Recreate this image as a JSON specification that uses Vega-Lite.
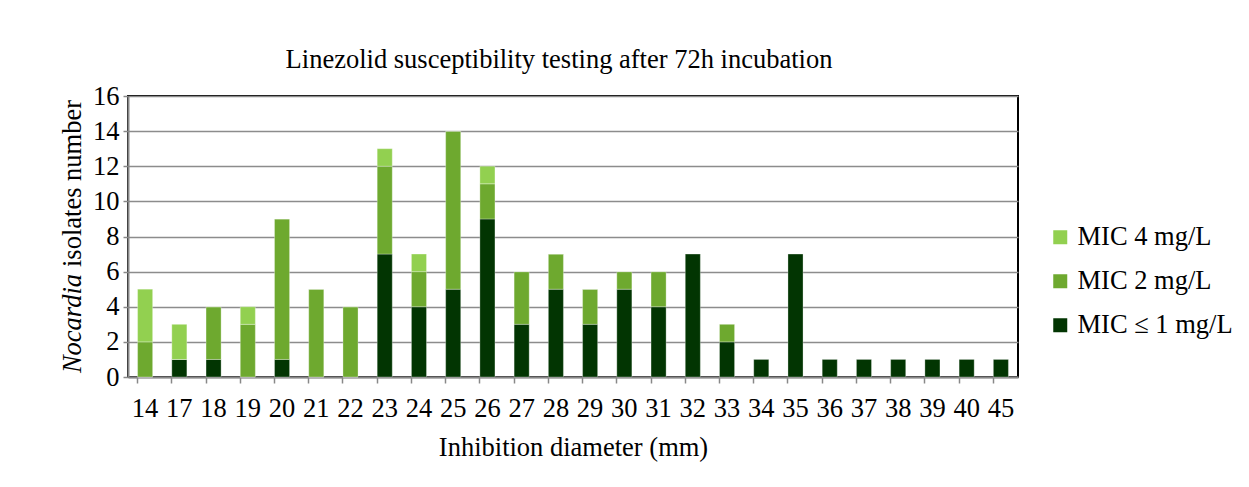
{
  "$schema": "https://vega.github.io/schema/vega-lite/v6.json",
  "width": 890,
  "height": 281,
  "autosize": {"type": "none"},
  "padding": {"left": 128, "top": 96, "right": 231, "bottom": 110},
  "background": "white",
  "title": {
    "text": "Linezolid susceptibility testing after 72h incubation",
    "font": "Liberation Serif",
    "fontSize": 26.5,
    "fontWeight": "normal",
    "color": "#000000",
    "anchor": "middle",
    "dx": -14,
    "offset": 10
  },
  "config": {
    "view": {"stroke": "#000000", "strokeWidth": 2},
    "font": "Liberation Serif"
  },
  "data": {
    "values": [
      {"d": "14", "mic": "MIC ≤ 1 mg/L", "o": 1, "n": 0},
      {"d": "14", "mic": "MIC 2 mg/L", "o": 2, "n": 2},
      {"d": "14", "mic": "MIC 4 mg/L", "o": 3, "n": 3},
      {"d": "17", "mic": "MIC ≤ 1 mg/L", "o": 1, "n": 1},
      {"d": "17", "mic": "MIC 2 mg/L", "o": 2, "n": 0},
      {"d": "17", "mic": "MIC 4 mg/L", "o": 3, "n": 2},
      {"d": "18", "mic": "MIC ≤ 1 mg/L", "o": 1, "n": 1},
      {"d": "18", "mic": "MIC 2 mg/L", "o": 2, "n": 3},
      {"d": "18", "mic": "MIC 4 mg/L", "o": 3, "n": 0},
      {"d": "19", "mic": "MIC ≤ 1 mg/L", "o": 1, "n": 0},
      {"d": "19", "mic": "MIC 2 mg/L", "o": 2, "n": 3},
      {"d": "19", "mic": "MIC 4 mg/L", "o": 3, "n": 1},
      {"d": "20", "mic": "MIC ≤ 1 mg/L", "o": 1, "n": 1},
      {"d": "20", "mic": "MIC 2 mg/L", "o": 2, "n": 8},
      {"d": "20", "mic": "MIC 4 mg/L", "o": 3, "n": 0},
      {"d": "21", "mic": "MIC ≤ 1 mg/L", "o": 1, "n": 0},
      {"d": "21", "mic": "MIC 2 mg/L", "o": 2, "n": 5},
      {"d": "21", "mic": "MIC 4 mg/L", "o": 3, "n": 0},
      {"d": "22", "mic": "MIC ≤ 1 mg/L", "o": 1, "n": 0},
      {"d": "22", "mic": "MIC 2 mg/L", "o": 2, "n": 4},
      {"d": "22", "mic": "MIC 4 mg/L", "o": 3, "n": 0},
      {"d": "23", "mic": "MIC ≤ 1 mg/L", "o": 1, "n": 7},
      {"d": "23", "mic": "MIC 2 mg/L", "o": 2, "n": 5},
      {"d": "23", "mic": "MIC 4 mg/L", "o": 3, "n": 1},
      {"d": "24", "mic": "MIC ≤ 1 mg/L", "o": 1, "n": 4},
      {"d": "24", "mic": "MIC 2 mg/L", "o": 2, "n": 2},
      {"d": "24", "mic": "MIC 4 mg/L", "o": 3, "n": 1},
      {"d": "25", "mic": "MIC ≤ 1 mg/L", "o": 1, "n": 5},
      {"d": "25", "mic": "MIC 2 mg/L", "o": 2, "n": 9},
      {"d": "25", "mic": "MIC 4 mg/L", "o": 3, "n": 0},
      {"d": "26", "mic": "MIC ≤ 1 mg/L", "o": 1, "n": 9},
      {"d": "26", "mic": "MIC 2 mg/L", "o": 2, "n": 2},
      {"d": "26", "mic": "MIC 4 mg/L", "o": 3, "n": 1},
      {"d": "27", "mic": "MIC ≤ 1 mg/L", "o": 1, "n": 3},
      {"d": "27", "mic": "MIC 2 mg/L", "o": 2, "n": 3},
      {"d": "27", "mic": "MIC 4 mg/L", "o": 3, "n": 0},
      {"d": "28", "mic": "MIC ≤ 1 mg/L", "o": 1, "n": 5},
      {"d": "28", "mic": "MIC 2 mg/L", "o": 2, "n": 2},
      {"d": "28", "mic": "MIC 4 mg/L", "o": 3, "n": 0},
      {"d": "29", "mic": "MIC ≤ 1 mg/L", "o": 1, "n": 3},
      {"d": "29", "mic": "MIC 2 mg/L", "o": 2, "n": 2},
      {"d": "29", "mic": "MIC 4 mg/L", "o": 3, "n": 0},
      {"d": "30", "mic": "MIC ≤ 1 mg/L", "o": 1, "n": 5},
      {"d": "30", "mic": "MIC 2 mg/L", "o": 2, "n": 1},
      {"d": "30", "mic": "MIC 4 mg/L", "o": 3, "n": 0},
      {"d": "31", "mic": "MIC ≤ 1 mg/L", "o": 1, "n": 4},
      {"d": "31", "mic": "MIC 2 mg/L", "o": 2, "n": 2},
      {"d": "31", "mic": "MIC 4 mg/L", "o": 3, "n": 0},
      {"d": "32", "mic": "MIC ≤ 1 mg/L", "o": 1, "n": 7},
      {"d": "33", "mic": "MIC ≤ 1 mg/L", "o": 1, "n": 2},
      {"d": "33", "mic": "MIC 2 mg/L", "o": 2, "n": 1},
      {"d": "34", "mic": "MIC ≤ 1 mg/L", "o": 1, "n": 1},
      {"d": "35", "mic": "MIC ≤ 1 mg/L", "o": 1, "n": 7},
      {"d": "36", "mic": "MIC ≤ 1 mg/L", "o": 1, "n": 1},
      {"d": "37", "mic": "MIC ≤ 1 mg/L", "o": 1, "n": 1},
      {"d": "38", "mic": "MIC ≤ 1 mg/L", "o": 1, "n": 1},
      {"d": "39", "mic": "MIC ≤ 1 mg/L", "o": 1, "n": 1},
      {"d": "40", "mic": "MIC ≤ 1 mg/L", "o": 1, "n": 1},
      {"d": "45", "mic": "MIC ≤ 1 mg/L", "o": 1, "n": 1}
    ]
  },
  "encoding": {
    "x": {
      "field": "d",
      "type": "ordinal",
      "sort": null,
      "scale": {"paddingInner": 0.56, "paddingOuter": 0.28},
      "axis": {
        "title": "Inhibition diameter (mm)",
        "titleFont": "Liberation Serif",
        "titleFontSize": 26.5,
        "titleFontWeight": "normal",
        "titleColor": "#000000",
        "titlePadding": 13,
        "labelFont": "Liberation Serif",
        "labelFontSize": 26.5,
        "labelColor": "#000000",
        "labelAngle": 0,
        "labelPadding": 12,
        "bandPosition": 0,
        "ticks": true,
        "tickSize": 6,
        "tickColor": "#888888",
        "tickWidth": 1.5,
        "domainColor": "#888888",
        "domainWidth": 2,
        "grid": false
      }
    }
  },
  "layer": [
    {
      "mark": {"type": "bar", "stroke": "#ffffff", "strokeWidth": 0.5, "strokeOpacity": 0.6},
      "encoding": {
        "y": {
          "field": "n",
          "type": "quantitative",
          "stack": "zero",
          "scale": {"domain": [0, 16], "nice": false},
          "axis": {
            "orient": "left",
            "title": "isolates number",
            "titleFont": "Liberation Serif",
            "titleFontSize": 26.5,
            "titleFontWeight": "normal",
            "titleColor": "#000000",
            "titleX": -42,
            "titleY": 87,
            "labelFont": "Liberation Serif",
            "labelFontSize": 26.5,
            "labelColor": "#000000",
            "labelPadding": 4,
            "values": [0, 2, 4, 6, 8, 10, 12, 14, 16],
            "tickSize": 5,
            "tickColor": "#888888",
            "tickWidth": 1.5,
            "domainColor": "#888888",
            "domainWidth": 2,
            "grid": true,
            "gridColor": "#8c8c8c",
            "gridWidth": 1.5
          }
        },
        "color": {
          "field": "mic",
          "type": "nominal",
          "scale": {
            "domain": ["MIC 4 mg/L", "MIC 2 mg/L", "MIC ≤ 1 mg/L"],
            "range": ["#92D050", "#6EA92F", "#023502"]
          },
          "legend": {
            "title": null,
            "orient": "none",
            "legendX": 919,
            "legendY": 128,
            "symbolType": "square",
            "symbolSize": 196,
            "symbolStrokeWidth": 0,
            "labelFont": "Liberation Serif",
            "labelFontSize": 26.5,
            "labelColor": "#000000",
            "labelOffset": 4,
            "rowPadding": 17
          }
        },
        "order": {"field": "o", "type": "quantitative"}
      }
    },
    {
      "mark": {"type": "bar", "opacity": 0},
      "encoding": {
        "y": {
          "field": "n",
          "type": "quantitative",
          "stack": "zero",
          "scale": {"domain": [0, 16], "nice": false},
          "axis": {
            "orient": "left",
            "title": "Nocardia",
            "titleFont": "Liberation Serif",
            "titleFontSize": 26.5,
            "titleFontWeight": "normal",
            "titleFontStyle": "italic",
            "titleColor": "#000000",
            "titleX": -42,
            "titleY": 227,
            "labels": false,
            "ticks": false,
            "domain": false,
            "grid": false
          }
        }
      }
    }
  ],
  "resolve": {"axis": {"y": "independent"}}
}
